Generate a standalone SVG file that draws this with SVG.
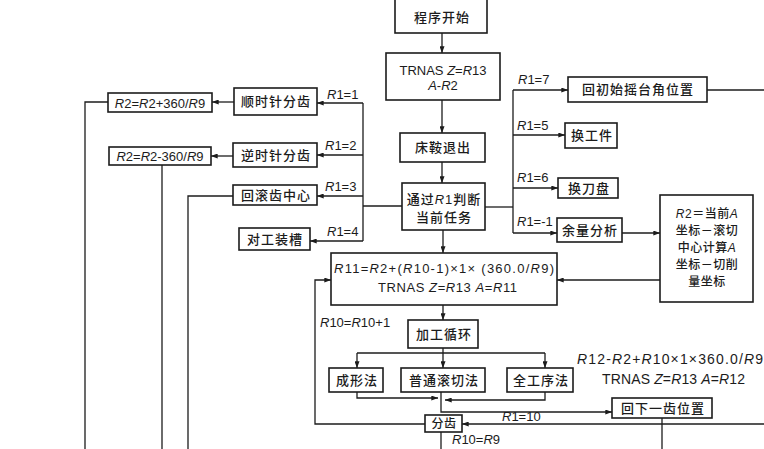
<svg xmlns="http://www.w3.org/2000/svg" width="764" height="449" viewBox="0 0 764 449">
<style>
.box{fill:#fff;stroke:#1c1c1c;stroke-width:1.6}
.ln{fill:none;stroke:#1c1c1c;stroke-width:1.3}
.cn{font-family:"Noto Sans CJK SC","Noto Sans CJK TC",sans-serif;font-size:13px;font-weight:500;fill:#1c1c1c;text-anchor:middle;letter-spacing:1px}
.sm{font-size:12px;letter-spacing:0.5px}
.lt{font-family:"Liberation Sans",Arial,sans-serif;font-size:13px;fill:#1c1c1c}
.mid{text-anchor:middle}
.i{font-style:italic}
.la{font-family:"Liberation Sans",Arial,sans-serif;font-style:italic}
</style>
<defs>
<marker id="ah" viewBox="0 0 8 6" refX="8" refY="3" markerWidth="7" markerHeight="5" orient="auto" markerUnits="userSpaceOnUse"><path d="M0,0 L8,3 L0,6 z" fill="#1c1c1c"/></marker>
</defs>
<rect width="764" height="449" fill="#fff"/>

<g id="connectors">
<path class="ln" d="M442,33 V53" marker-end="url(#ah)"/>
<path class="ln" d="M442,100 V133" marker-end="url(#ah)"/>
<path class="ln" d="M442,162 V183" marker-end="url(#ah)"/>
<path class="ln" d="M443,230 V253" marker-end="url(#ah)"/>
<path class="ln" d="M443,305 V320" marker-end="url(#ah)"/>
<path class="ln" d="M363,103 V241"/>
<path class="ln" d="M363,206 H402"/>
<path class="ln" d="M363,103 H317" marker-end="url(#ah)"/>
<path class="ln" d="M363,155 H317" marker-end="url(#ah)"/>
<path class="ln" d="M363,196 H317" marker-end="url(#ah)"/>
<path class="ln" d="M363,241 H310" marker-end="url(#ah)"/>
<path class="ln" d="M234,102 H212" marker-end="url(#ah)"/>
<path class="ln" d="M233,156 H211" marker-end="url(#ah)"/>
<path class="ln" d="M108,102 H85 V449"/>
<path class="ln" d="M162,165 V449"/>
<path class="ln" d="M233,196 H188 V449"/>
<path class="ln" d="M485,207 H513"/>
<path class="ln" d="M513,90 V233"/>
<path class="ln" d="M513,90 H568" marker-end="url(#ah)"/>
<path class="ln" d="M513,135 H565" marker-end="url(#ah)"/>
<path class="ln" d="M513,188 H558" marker-end="url(#ah)"/>
<path class="ln" d="M513,233 H557" marker-end="url(#ah)"/>
<path class="ln" d="M707,90 H764"/>
<path class="ln" d="M622,233 H660" marker-end="url(#ah)"/>
<path class="ln" d="M660,280 H557" marker-end="url(#ah)"/>
<path class="ln" d="M443,348 V353"/>
<path class="ln" d="M357,353 H545"/>
<path class="ln" d="M357,353 V368" marker-end="url(#ah)"/>
<path class="ln" d="M443,353 V368" marker-end="url(#ah)"/>
<path class="ln" d="M545,353 V368" marker-end="url(#ah)"/>
<path class="ln" d="M357,392 V398 H438" marker-end="url(#ah)"/>
<path class="ln" d="M545,392 V400 H445" marker-end="url(#ah)"/>
<path class="ln" d="M441,392 V412 H612" marker-end="url(#ah)"/>
<path class="ln" d="M764,424 H462" marker-end="url(#ah)"/>
<path class="ln" d="M425,424 H315 V280 H331" marker-end="url(#ah)"/>
<path class="ln" d="M441,432 V449"/>
<path class="ln" d="M662,418 V449"/>
<text class="lt" x="327" y="99"><tspan class="i">R</tspan>1=1</text>
<text class="lt" x="325" y="150"><tspan class="i">R</tspan>1=2</text>
<text class="lt" x="325" y="191"><tspan class="i">R</tspan>1=3</text>
<text class="lt" x="327" y="236"><tspan class="i">R</tspan>1=4</text>
<text class="lt" x="518" y="84"><tspan class="i">R</tspan>1=7</text>
<text class="lt" x="517" y="130"><tspan class="i">R</tspan>1=5</text>
<text class="lt" x="517" y="182"><tspan class="i">R</tspan>1=6</text>
<text class="lt" x="517" y="226"><tspan class="i">R</tspan>1=-1</text>
<text class="lt" x="320" y="327"><tspan class="i">R</tspan>10=<tspan class="i">R</tspan>10+1</text>
<text class="lt" x="502" y="421"><tspan class="i">R</tspan>1=10</text>
<text class="lt" x="452" y="444"><tspan class="i">R</tspan>10=<tspan class="i">R</tspan>9</text>
<text class="lt" x="577" y="364" style="font-size:14px" textLength="186" lengthAdjust="spacing"><tspan class="i">R</tspan>12-<tspan class="i">R</tspan>2+<tspan class="i">R</tspan>10×1×360.0/<tspan class="i">R</tspan>9</text>
<text class="lt" x="602" y="384" style="font-size:14px" textLength="143" lengthAdjust="spacing">TRNAS <tspan class="i">Z</tspan>=<tspan class="i">R</tspan>13 <tspan class="i">A</tspan>=<tspan class="i">R</tspan>12</text>
</g>

<g id="n-start"><rect class="box" x="395" y="-2" width="92" height="35"/><text class="cn" x="442" y="22">程序开始</text></g>
<g id="n-trnas"><rect class="box" x="386" y="53" width="114" height="47"/><text class="lt mid" x="443" y="75">TRNAS <tspan class="i">Z</tspan>=<tspan class="i">R</tspan>13</text><text class="lt mid" x="443" y="90"><tspan class="i">A</tspan>-<tspan class="i">R</tspan>2</text></g>
<g id="n-retreat"><rect class="box" x="400" y="133" width="85" height="29"/><text class="cn" x="443" y="152">床鞍退出</text></g>
<g id="n-judge"><rect class="box" x="402" y="183" width="83" height="47"/><text class="cn" x="444" y="204">通过<tspan class="la">R</tspan><tspan style="font-family:'Liberation Sans',sans-serif">1</tspan>判断</text><text class="cn" x="444" y="222">当前任务</text></g>
<g id="n-r11"><rect class="box" x="331" y="253" width="226" height="52"/><text class="lt" x="334" y="273" textLength="220" lengthAdjust="spacing"><tspan class="i">R</tspan>11=<tspan class="i">R</tspan>2+(<tspan class="i">R</tspan>10-1)×1× (360.0/<tspan class="i">R</tspan>9)</text><text class="lt" x="378" y="292" textLength="139" lengthAdjust="spacing">TRNAS <tspan class="i">Z</tspan>=<tspan class="i">R</tspan>13 <tspan class="i">A</tspan>=<tspan class="i">R</tspan>11</text></g>
<g id="n-loop"><rect class="box" x="408" y="320" width="70" height="28"/><text class="cn" x="444" y="339">加工循环</text></g>
<g id="n-form"><rect class="box" x="329" y="368" width="54" height="24"/><text class="cn" x="357" y="385">成形法</text></g>
<g id="n-hob"><rect class="box" x="401" y="368" width="84" height="24"/><text class="cn" x="444" y="385">普通滚切法</text></g>
<g id="n-full"><rect class="box" x="507" y="368" width="66" height="24"/><text class="cn" x="541" y="385">全工序法</text></g>
<g id="n-index"><rect class="box" x="425" y="415" width="37" height="17"/><text class="cn sm" x="444" y="428">分齿</text></g>
<g id="n-next"><rect class="box" x="612" y="398" width="100" height="20"/><text class="cn" x="663" y="413">回下一齿位置</text></g>
<g id="n-r2calc"><rect class="box" x="660" y="195" width="93" height="107"/>
<text class="cn sm" x="707" y="218"><tspan class="la">R</tspan><tspan style="font-family:'Liberation Sans',sans-serif">2</tspan>＝当前<tspan class="la">A</tspan></text>
<text class="cn sm" x="707" y="235">坐标－滚切</text>
<text class="cn sm" x="707" y="252">中心计算<tspan class="la">A</tspan></text>
<text class="cn sm" x="707" y="269">坐标－切削</text>
<text class="cn sm" x="707" y="286">量坐标</text></g>
<g id="n-home"><rect class="box" x="568" y="77" width="139" height="25"/><text class="cn" x="638" y="94">回初始摇台角位置</text></g>
<g id="n-work"><rect class="box" x="565" y="123" width="52" height="25"/><text class="cn" x="592" y="140">换工件</text></g>
<g id="n-tool"><rect class="box" x="558" y="178" width="60" height="20"/><text class="cn" x="589" y="193">换刀盘</text></g>
<g id="n-margin"><rect class="box" x="557" y="218" width="65" height="24"/><text class="cn" x="590" y="235">余量分析</text></g>
<g id="n-cw"><rect class="box" x="234" y="88" width="83" height="27"/><text class="cn" x="276" y="106">顺时针分齿</text></g>
<g id="n-ccw"><rect class="box" x="233" y="143" width="84" height="24"/><text class="cn" x="276" y="160">逆时针分齿</text></g>
<g id="n-center"><rect class="box" x="233" y="185" width="84" height="20"/><text class="cn" x="276" y="200">回滚齿中心</text></g>
<g id="n-slot"><rect class="box" x="239" y="228" width="71" height="22"/><text class="cn" x="275" y="244">对工装槽</text></g>
<g id="n-plus"><rect class="box" x="108" y="93" width="104" height="19"/><text class="lt mid" x="160" y="107.5"><tspan class="i">R</tspan>2=<tspan class="i">R</tspan>2+360/<tspan class="i">R</tspan>9</text></g>
<g id="n-minus"><rect class="box" x="109" y="147" width="102" height="18"/><text class="lt mid" x="160" y="161"><tspan class="i">R</tspan>2=<tspan class="i">R</tspan>2-360/<tspan class="i">R</tspan>9</text></g>
</svg>
